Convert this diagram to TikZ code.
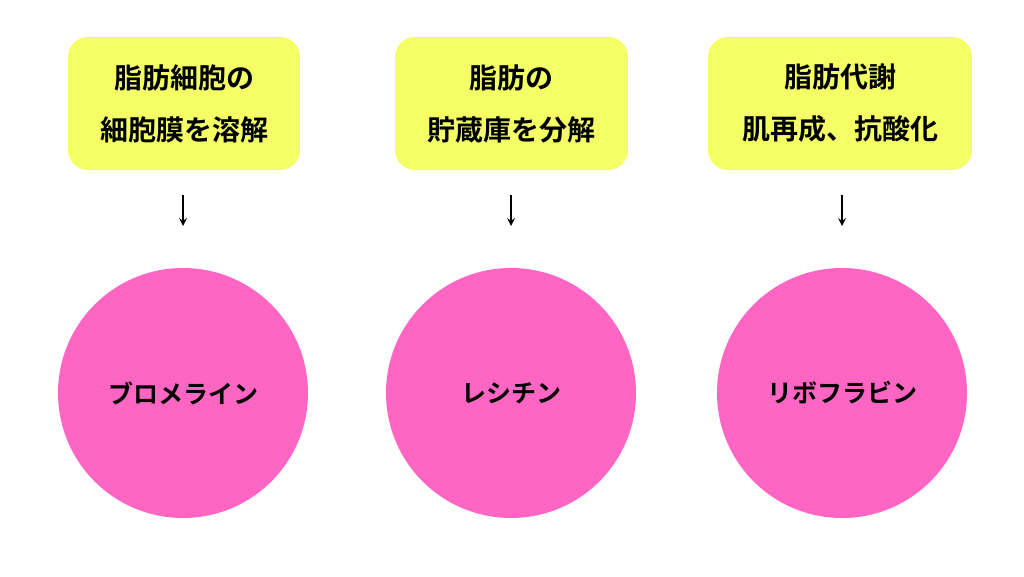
\documentclass[tikz,border=0pt]{standalone}
\usepackage{fontspec}
\newfontfamily\cjk{Noto Sans CJK JP}[BoldFont={* Bold}]
\usetikzlibrary{positioning}
\definecolor{boxyellow}{HTML}{F4FF66}
\definecolor{ballpink}{HTML}{FF66C4}
\tikzset{
  topbox/.style={fill=boxyellow,rounded corners=20pt,align=center,font=\cjk\bfseries\fontsize{28}{52}\selectfont,inner sep=0pt},
  ball/.style={circle,fill=ballpink,minimum size=250pt,inner sep=0pt,font=\cjk\bfseries\fontsize{25}{30}\selectfont},
  down/.style={-stealth,line width=2.4pt}
}
\begin{document}
\begin{tikzpicture}[x=1pt,y=-1pt]
  \useasboundingbox (0,0) rectangle (1024,576);

  % boxes
  \node[topbox,minimum width=232pt,minimum height=133pt] (b1) at (184,103.5) {脂肪細胞の\\細胞膜を溶解};
  \node[topbox,minimum width=233pt,minimum height=133pt] (b2) at (511.5,103.5) {脂肪の\\貯蔵庫を分解};
  \node[topbox,minimum width=264pt,minimum height=133pt] (b3) at (840,103.5) {脂肪代謝\\肌再成、抗酸化};

  % arrows
  \coordinate (a1) at (183,195); \coordinate (e1) at (183,226);
  \coordinate (a2) at (511,195); \coordinate (e2) at (511,226);
  \coordinate (a3) at (842,195); \coordinate (e3) at (842,226);
  \draw[down] (a1) -- (e1);
  \draw[down] (a2) -- (e2);
  \draw[down] (a3) -- (e3);

  % circles
  \node[ball] (c1) at (183,393) {ブロメライン};
  \node[ball] (c2) at (511,393) {レシチン};
  \node[ball] (c3) at (842,393) {リボフラビン};
\end{tikzpicture}
\end{document}
